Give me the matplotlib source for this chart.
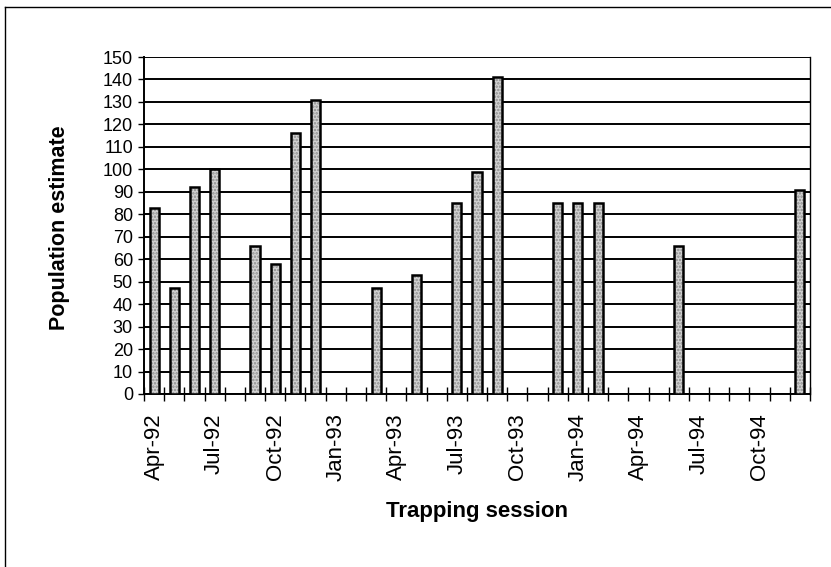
#!/usr/bin/env python3

import matplotlib
matplotlib.use('Agg')
import matplotlib.pyplot as plt
from matplotlib.lines import Line2D
import numpy as np

plt.rcParams['font.family'] = ['Liberation Sans', 'DejaVu Sans']
plt.rcParams['hatch.linewidth'] = 1.2

# monthly trapping sessions, Apr-92 .. Dec-94 (None = no session that month)
months = ['Apr-92', 'May-92', 'Jun-92', 'Jul-92', 'Aug-92', 'Sep-92', 'Oct-92', 'Nov-92', 'Dec-92',
          'Jan-93', 'Feb-93', 'Mar-93', 'Apr-93', 'May-93', 'Jun-93', 'Jul-93', 'Aug-93', 'Sep-93',
          'Oct-93', 'Nov-93', 'Dec-93', 'Jan-94', 'Feb-94', 'Mar-94', 'Apr-94', 'May-94', 'Jun-94',
          'Jul-94', 'Aug-94', 'Sep-94', 'Oct-94', 'Nov-94', 'Dec-94']
estimates = [83, 47, 92, 100, None, 66, 58, 116, 131,
             None, None, 47, None, 53, None, 85, 99, 141,
             None, None, 85, 85, 85, None, None, None, 66,
             None, None, None, None, None, 91]
yticks = list(range(0, 151, 10))

W, H = 831, 567
fig = plt.figure(figsize=(W / 100, H / 100), dpi=100)
ax = fig.add_axes([144 / W, 1 - 394 / H, (810 - 144) / W, (394 - 57) / H])

x = np.array([i for i, v in enumerate(estimates) if v is not None])
y = np.array([v for v in estimates if v is not None])

ax.set_axisbelow(True)
ax.grid(axis='y', color='black', linewidth=1.4)
# stippled grey fill, then the black outline on top
ax.bar(x, y, 0.45, color='#d2d2d2', edgecolor='#8c8c8c', linewidth=0, hatch='.....', zorder=3)
ax.bar(x, y, 0.45, color='none', edgecolor='black', linewidth=1.8, zorder=4)

ax.set_xlim(-0.5, len(months) - 0.5)
ax.set_ylim(0, 150)
ax.set_yticks(yticks)
ax.tick_params(axis='y', length=4, width=1, pad=4, labelsize=13)

# labels every third month, tick marks between every month
ax.set_xticks(np.arange(0, len(months), 3))
ax.set_xticklabels(months[::3], rotation=90, fontsize=16)
ax.set_xticks(np.arange(-0.5, len(months), 1), minor=True)
ax.tick_params(axis='x', which='major', length=0, pad=14)
ax.tick_params(axis='x', which='minor', direction='inout', length=10, width=1)

for side in ['left', 'bottom']:
    ax.spines[side].set_linewidth(1.4)
ax.spines['right'].set_linewidth(1)
ax.spines['top'].set_visible(False)

fig.text(59 / W, 1 - 228 / H, 'Population estimate', rotation=90, fontsize=15.5,
         fontweight='bold', ha='center', va='center')
fig.text(477 / W, 1 - 511 / H, 'Trapping session', fontsize=16,
         fontweight='bold', ha='center', va='center')

# chart area border (top and left edges)
fig.add_artist(Line2D([5 / W, 1], [1 - 7 / H, 1 - 7 / H], color='black', linewidth=1))
fig.add_artist(Line2D([5 / W, 5 / W], [0, 1 - 7 / H], color='black', linewidth=1))

fig.savefig('out.png', dpi=100)
